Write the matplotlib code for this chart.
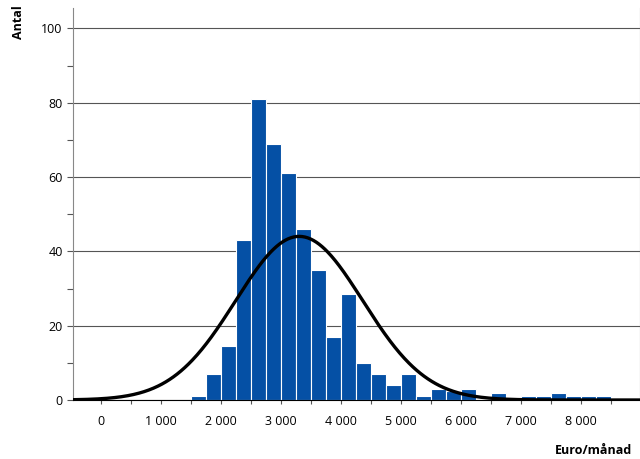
import numpy as np
import matplotlib
matplotlib.use("Agg")
import matplotlib.pyplot as plt
from matplotlib.ticker import MultipleLocator, FuncFormatter

bin_left = [1500,1750,2000,2250,2500,2750,3000,3250,3500,3750,4000,4250,4500,4750,5000,5250,5500,5750,6000,6250,6500,6750,7000,7250,7500,7750,8000,8250]
counts = [1,7,14.5,43,81,69,61,46,35,17,28.5,10,7,4,7,1,3,2.5,3,0,2,0,1,1,2,1,1,1]
mean, sd, total = 3300, 1060, 468
bw = 250

plt.rcParams['font.family'] = ['Open Sans', 'DejaVu Sans']
fig = plt.figure(figsize=(6.4, 4.59), dpi=100)
ax = fig.add_axes([73/640, 1-400/459, (640-73)/640, (400-8)/459])
ax.bar(bin_left, counts, width=bw, align='edge', color='#0550a5', edgecolor='white', linewidth=0.8, zorder=2)
x = np.linspace(-470, 8980, 600)
y = total*bw/(sd*np.sqrt(2*np.pi))*np.exp(-0.5*((x-mean)/sd)**2)
ax.plot(x, y, color='black', lw=2.4, zorder=3)
ax.set_xlim(-470, 8980)
ax.set_ylim(0, 105.5)
ax.yaxis.set_major_locator(MultipleLocator(20))
ax.yaxis.set_minor_locator(MultipleLocator(10))
ax.xaxis.set_major_locator(MultipleLocator(1000))
ax.xaxis.set_minor_locator(MultipleLocator(500))
ax.xaxis.set_major_formatter(FuncFormatter(lambda v, p: f"{int(v):,}".replace(",", " ")))
ax.grid(axis='y', color='#555555', lw=0.8, zorder=0)
ax.spines['top'].set_visible(False)
ax.spines['right'].set_color('#888888')
ax.spines['left'].set_color('#888888')
ax.tick_params(axis='both', labelsize=9, color='#555555', length=3, width=0.8)
ax.tick_params(axis='both', which='minor', color='#555555', length=3, width=0.8)
ax.tick_params(axis='x', which='both', direction='out', pad=8)
ax.tick_params(axis='y', which='both', left=True, length=4)
fig.text(18/640, 1-22/459, 'Antal', rotation=90, ha='center', va='center', fontsize=9, fontweight='bold')
fig.text(632/640, 1-450/459, 'Euro/månad', ha='right', va='center', fontsize=9, fontweight='bold')
fig.savefig('out.png', dpi=100)
